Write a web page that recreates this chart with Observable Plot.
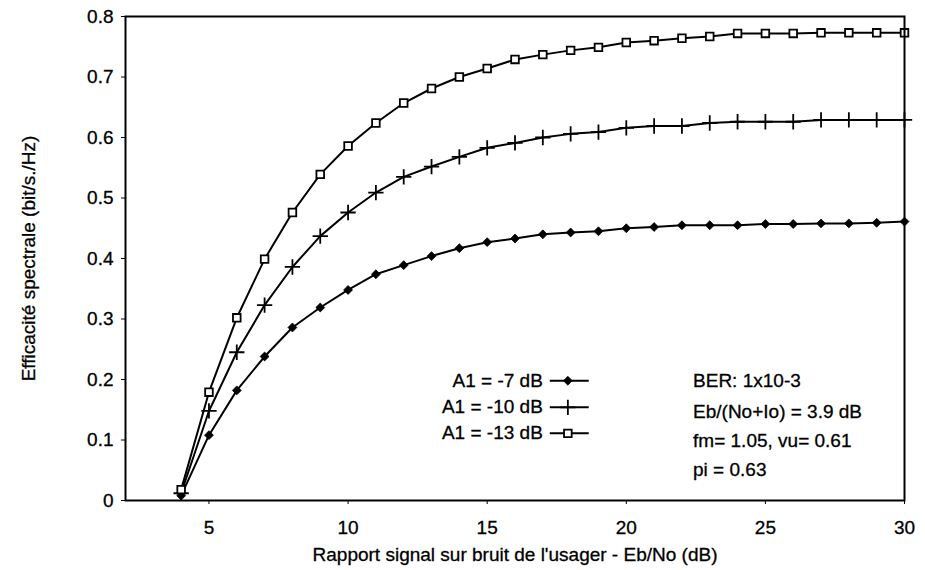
<!DOCTYPE html>
<html><head><meta charset="utf-8">
<script src="https://cdn.jsdelivr.net/npm/d3@7"></script>
<script src="https://cdn.jsdelivr.net/npm/@observablehq/plot@0.6"></script>
<style>
body{margin:0;background:#fff}
#chart svg{font-family:"Liberation Sans",Arial,sans-serif}
#chart svg text{stroke:black;stroke-width:0.3px}
</style>
</head><body><div id="chart"></div>
<script>
// Eb/No (dB)
const snr = [4,5,6,7,8,9,10,11,12,13,14,15,16,17,18,19,20,21,22,23,24,25,26,27,28,29,30];
// A1 = -7 dB
const a1m7 = [0.008,0.108,0.182,0.238,0.286,0.319,0.348,0.374,0.389,0.404,0.417,0.427,0.433,0.440,0.443,0.445,0.450,0.452,0.455,0.455,0.455,0.457,0.457,0.458,0.458,0.459,0.461];
// A1 = -10 dB
const a1m10 = [0.012,0.148,0.245,0.323,0.386,0.437,0.476,0.509,0.535,0.552,0.568,0.583,0.591,0.600,0.606,0.609,0.616,0.619,0.619,0.624,0.626,0.626,0.626,0.629,0.629,0.629,0.629];
// A1 = -13 dB
const a1m13 = [0.018,0.179,0.302,0.399,0.476,0.539,0.586,0.624,0.657,0.681,0.700,0.714,0.729,0.737,0.744,0.749,0.757,0.760,0.764,0.767,0.772,0.772,0.772,0.773,0.773,0.773,0.773];
const seriesNames = ["A1 = -7 dB","A1 = -10 dB","A1 = -13 dB"];
const notes = ["BER: 1x10-3","Eb/(No+Io) = 3.9 dB","fm= 1.05, vu= 0.61","pi = 0.63"];
const xTicks = [5,10,15,20,25,30];
const yTicks = [0,0.1,0.2,0.3,0.4,0.5,0.6,0.7,0.8];
const xLabel = "Rapport signal sur bruit de l'usager - Eb/No (dB)";
const yLabel = "Efficacité spectrale (bit/s./Hz)";

const mk = vals => snr.map((x,i)=>({x, y: vals[i]}));
const s7 = mk(a1m7), s10 = mk(a1m10), s13 = mk(a1m13);

// legend layout (in data units of the chart)
const legY = [0.198, 0.154, 0.111];
const legRows = seriesNames.map((name,i)=>({name, y: legY[i]}));
const noteY = [0.197, 0.147, 0.099, 0.050];
const noteRows = notes.map((t,i)=>({t, y: noteY[i]}));
const legTextX = 17.0, legX1 = 17.25, legX2 = 18.65, legMX = 17.9, noteX = 22.4;

const dot7 = {symbol:"diamond2", r:4, fill:"black", stroke:"black", strokeWidth:0.8};
const dot10 = {symbol:"plus", r:5, stroke:"black", strokeWidth:1.8};
const dot13 = {symbol:"square", r:4.3, fill:"white", stroke:"black", strokeWidth:1.8};

const chart = Plot.plot({
  width: 925, height: 570,
  marginLeft: 125, marginRight: 21, marginTop: 16, marginBottom: 70,
  style: {fontSize: "19px", fontFamily: "'Liberation Sans', Arial, sans-serif", color: "black", background: "white"},
  x: {domain: [2, 30], ticks: xTicks, tickSize: 4, tickPadding: 16, label: xLabel, labelArrow: false, labelAnchor: "center", labelOffset: 60},
  y: {domain: [0, 0.8], ticks: yTicks, tickSize: 4, tickPadding: 8, tickFormat: d => d === 0 ? "0" : d.toFixed(1), label: yLabel, labelArrow: false, labelAnchor: "center", labelOffset: 104},
  marks: [
    Plot.line(s7, {x:"x", y:"y", stroke:"black", strokeWidth:2}),
    Plot.line(s10, {x:"x", y:"y", stroke:"black", strokeWidth:2}),
    Plot.line(s13, {x:"x", y:"y", stroke:"black", strokeWidth:2}),
    Plot.dot(s7, {x:"x", y:"y", ...dot7}),
    Plot.dot(s10, {x:"x", y:"y", ...dot10}),
    Plot.dot(s13, {x:"x", y:"y", ...dot13}),
    // legend
    Plot.text(legRows, {x: legTextX, y:"y", text:"name", textAnchor:"end", fontSize:19, fill:"black"}),
    Plot.link(legRows, {x1: legX1, x2: legX2, y1:"y", y2:"y", stroke:"black", strokeWidth:2}),
    Plot.dot([legRows[0]], {x: legMX, y:"y", ...dot7}),
    Plot.dot([legRows[1]], {x: legMX, y:"y", ...dot10}),
    Plot.dot([legRows[2]], {x: legMX, y:"y", ...dot13}),
    Plot.text(noteRows, {x: noteX, y:"y", text:"t", textAnchor:"start", fontSize:19, fill:"black"}),
    Plot.frame({stroke:"black", strokeWidth:2})
  ]
});
document.getElementById("chart").appendChild(chart);
</script>
</body></html>
